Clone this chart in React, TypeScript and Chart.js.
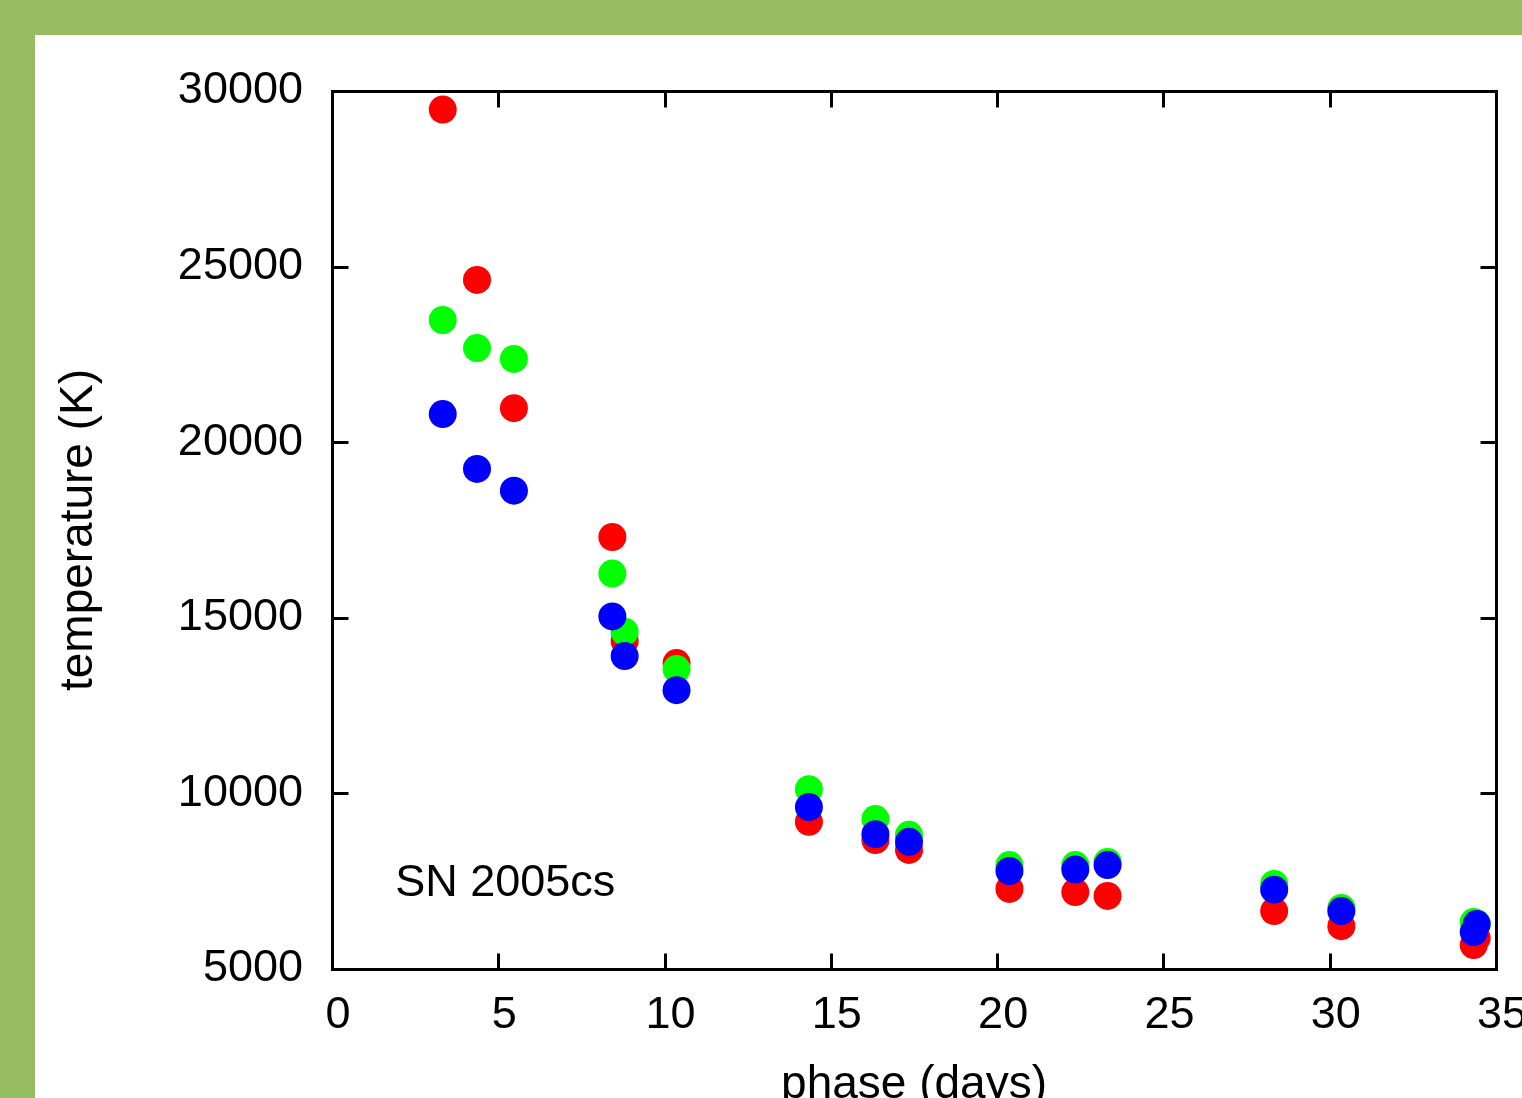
import { useEffect, useRef } from "react";
import { Chart, registerables } from "chart.js";

Chart.register(...registerables);

// ---- data ----
const phaseDays = [3.33, 4.36, 5.47, 8.43, 8.8, 10.36, 14.34, 16.34, 17.35, 20.37, 22.35, 23.32, 28.33, 30.35, 34.33, 34.42];
const tempRed = [29470, 24620, 20970, 17300, 14340, 13710, 9190, 8670, 8390, 7280, 7190, 7080, 6650, 6220, 5680, 5880];
const tempGreen = [23480, 22680, 22370, 16260, 14600, 13540, 10120, 9270, 8820, 7960, 7960, 8050, 7420, 6740, 6340, 6300];
const tempBlue = [20800, 19240, 18620, 15040, 13910, 12940, 9610, 8840, 8620, 7790, 7830, 7960, 7260, 6650, 6050, 6280];

const xMin = 0;
const xMax = 35;
const xStep = 5;
const yMin = 5000;
const yMax = 30000;
const yStep = 5000;

const objectName = "SN 2005cs";
const objectLabelAt = [1.9, 7080];
const xTitle = "phase (days)";
const yTitle = "temperature (K)";

const FONT = "'Liberation Sans', Arial, Helvetica, sans-serif";
const CANVAS_W = 1487;
const CANVAS_H = 1110;

const framePlugin = {
  id: "gnuframe",
  beforeDatasetsDraw(chart: any) {
    const { ctx, chartArea, scales } = chart;
    const l = Math.round(chartArea.left) + 0.5;
    const r = Math.round(chartArea.right) + 0.5;
    const t = Math.round(chartArea.top) + 0.5;
    const b = Math.round(chartArea.bottom) + 0.5;
    ctx.save();
    ctx.strokeStyle = "#000";
    ctx.lineWidth = 3;
    ctx.strokeRect(l, t, r - l, b - t);
    const tick = 16;
    ctx.beginPath();
    scales.x.ticks.forEach((tk: any) => {
      const px = Math.round(scales.x.getPixelForValue(tk.value)) + 0.5;
      ctx.moveTo(px, b);
      ctx.lineTo(px, b - tick);
      ctx.moveTo(px, t);
      ctx.lineTo(px, t + tick);
    });
    scales.y.ticks.forEach((tk: any) => {
      const py = Math.round(scales.y.getPixelForValue(tk.value)) + 0.5;
      ctx.moveTo(l, py);
      ctx.lineTo(l + tick, py);
      ctx.moveTo(r, py);
      ctx.lineTo(r - tick, py);
    });
    ctx.stroke();
    ctx.restore();
  },
  afterDraw(chart: any) {
    const { ctx, scales } = chart;
    ctx.save();
    ctx.fillStyle = "#000";
    ctx.font = `45px ${FONT}`;
    ctx.textAlign = "left";
    ctx.textBaseline = "alphabetic";
    ctx.fillText(
      objectName,
      scales.x.getPixelForValue(objectLabelAt[0]),
      scales.y.getPixelForValue(objectLabelAt[1])
    );
    ctx.restore();
  },
};

export default function App() {
  const ref = useRef<HTMLCanvasElement | null>(null);

  useEffect(() => {
    document.body.style.margin = "0";
    const canvas = ref.current;
    if (!canvas) return;
    const mk = (data: number[], color: string, order: number) => ({
      data: phaseDays.map((x, i) => ({ x, y: data[i] })),
      backgroundColor: color,
      borderWidth: 0,
      pointRadius: 14,
      pointHoverRadius: 14,
      pointStyle: "circle" as const,
      showLine: false,
      order,
    });
    const chart = new Chart(canvas, {
      type: "scatter",
      data: {
        datasets: [mk(tempRed, "#ff0000", 3), mk(tempGreen, "#00ff00", 2), mk(tempBlue, "#0000ff", 1)],
      },
      options: {
        responsive: false,
        animation: false,
        devicePixelRatio: 1,
        clip: false as any,
        layout: { padding: { left: 0, top: 56, right: 26, bottom: 0 } },
        plugins: { legend: { display: false }, tooltip: { enabled: false } },
        scales: {
          x: {
            type: "linear",
            min: xMin,
            max: xMax,
            afterFit(scale: any) {
              scale.height = CANVAS_H - 934;
              scale.paddingLeft = 0;
              scale.paddingRight = 0;
            },
            grid: { display: false, drawTicks: false },
            border: { display: false },
            ticks: {
              stepSize: xStep,
              padding: 20,
              labelOffset: 6,
              color: "#000",
              font: { family: FONT, size: 45 },
              maxRotation: 0,
              callback: (v: any) => String(v),
            },
            title: {
              display: true,
              text: xTitle,
              color: "#000",
              font: { family: FONT, size: 46 },
              padding: { top: 0, bottom: 32 },
            },
          },
          y: {
            type: "linear",
            min: yMin,
            max: yMax,
            afterFit(scale: any) {
              scale.width = 297;
              scale.paddingTop = 0;
              scale.paddingBottom = 0;
            },
            grid: { display: false, drawTicks: false },
            border: { display: false },
            ticks: {
              stepSize: yStep,
              padding: 29,
              color: "#000",
              font: { family: FONT, size: 45 },
              callback: (v: any) => String(v),
            },
            title: {
              display: true,
              text: yTitle,
              color: "#000",
              font: { family: FONT, size: 46 },
              padding: { top: 17, bottom: 0 },
            },
          },
        },
      },
      plugins: [framePlugin],
    });
    return () => chart.destroy();
  }, []);

  return (
    <div
      style={{
        position: "fixed",
        left: 0,
        top: 0,
        width: 1522,
        height: 1098,
        background: "#96be60",
        overflow: "hidden",
      }}
    >
      <div
        style={{
          position: "absolute",
          left: 35,
          top: 35,
          width: CANVAS_W,
          height: 1063,
          background: "#ffffff",
          overflow: "hidden",
        }}
      >
        <canvas ref={ref} width={CANVAS_W} height={CANVAS_H} style={{ display: "block" }} />
      </div>
    </div>
  );
}
